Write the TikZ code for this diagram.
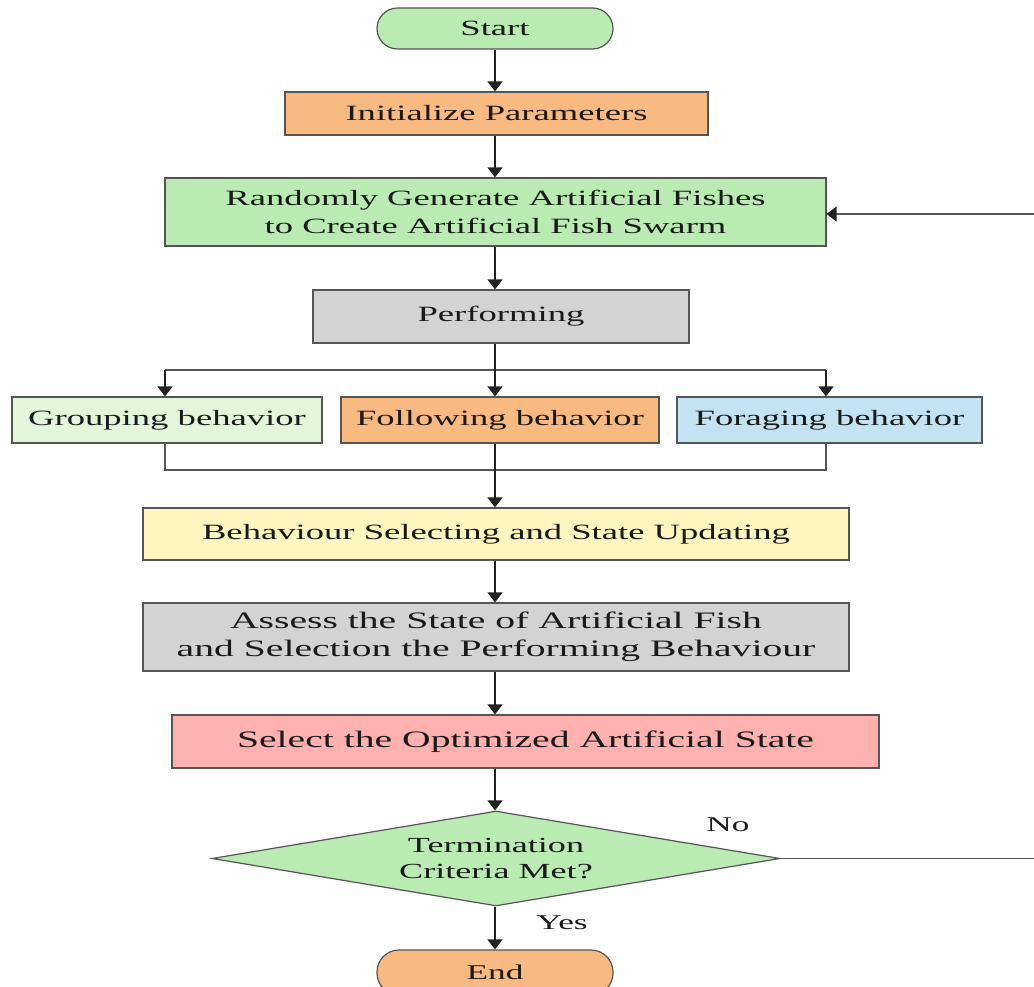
\documentclass[tikz,border=0pt]{standalone}
\usepackage{fontspec}
\setmainfont{Liberation Serif}
\newfontfamily\widefont[FakeStretch=1.68]{Liberation Serif}
\usetikzlibrary{shapes.geometric,arrows.meta,calc}
\definecolor{cgreen}{HTML}{B9EBB2}
\definecolor{corange}{HTML}{F9BA82}
\definecolor{cgray}{HTML}{D4D3D3}
\definecolor{clgreen}{HTML}{E3F6DC}
\definecolor{cblue}{HTML}{C3E3F3}
\definecolor{cyellow}{HTML}{FFF6BF}
\definecolor{cpink}{HTML}{FFB1AF}
\definecolor{cborder}{HTML}{555555}
\definecolor{carrow}{HTML}{222222}
\definecolor{cline}{HTML}{555555}
\definecolor{ctext}{HTML}{1A1A1A}
\begin{document}
\begin{tikzpicture}[x=1pt,y=-1pt,
  box/.style={draw=cborder, line width=1.2pt, inner sep=0pt, align=center, text=ctext,
    font=\widefont\fontsize{21.8}{28}\selectfont},
  bigbox/.style={box, font=\widefont\fontsize{23.6}{28}\selectfont},
  dia/.style={diamond, aspect=6, draw=cborder, line width=1.2pt, inner sep=0pt, align=center, text=ctext,
    font=\widefont\fontsize{21.5}{25.5}\selectfont},
  lab/.style={text=ctext, inner sep=0pt, font=\widefont\fontsize{21}{25}\selectfont},
  arr/.style={draw=carrow, line width=1.6pt, -{Triangle[width=15pt,length=10pt,color=carrow]}},
  ln/.style={draw=cline, line width=1.4pt}]
\useasboundingbox (0,0) rectangle (1034,987);
\coordinate (sp) at (495,0);
\node[box, fill=cgreen, rounded corners=20.5pt, minimum width=236, minimum height=41] (start) at (495,28.5) {Start};
\node[box, fill=corange, minimum width=423, minimum height=43] (init) at (496.5,113.5) {Initialize Parameters};
\node[box, fill=cgreen, minimum width=661, minimum height=68] (rand) at (495.5,212) {Randomly Generate Artificial Fishes\\to Create Artificial Fish Swarm};
\node[box, fill=cgray, minimum width=376, minimum height=53] (perf) at (501,316.5) {Performing};
\node[box, fill=clgreen, minimum width=310, minimum height=46] (group) at (167,420) {Grouping behavior};
\node[box, fill=corange, minimum width=318, minimum height=46] (follow) at (500,420) {Following behavior};
\node[box, fill=cblue, minimum width=305, minimum height=46] (forage) at (829.5,420) {Foraging behavior};
\node[box, fill=cyellow, minimum width=706, minimum height=52] (behav) at (496,534) {Behaviour Selecting and State Updating};
\node[bigbox, fill=cgray, minimum width=706, minimum height=68] (assess) at (496,637) {Assess the State of Artificial Fish\\and Selection the Performing Behaviour};
\node[bigbox, fill=cpink, minimum width=707, minimum height=53] (select) at (525.5,741.5) {Select the Optimized Artificial State};
\node[dia, fill=cgreen, minimum width=568, minimum height=95] (term) at (496,858.5) {Termination\\Criteria Met?};
\node[box, fill=corange, rounded corners=22pt, minimum width=236, minimum height=45, font=\widefont\fontsize{21}{25}\selectfont] (end) at (495,972.5) {End};
\node[lab] (no) at (728,825) {No};
\node[lab] (yes) at (562,923) {Yes};
\coordinate (bl) at (165,370);
\coordinate (br) at (826,370);
\coordinate (ml) at (165,470);
\coordinate (mr) at (826,470);
\coordinate (fbin) at (1034,214);
\coordinate (noend) at (1034,858.5);
\draw[arr] (start.south -| sp) -- (init.north -| sp);
\draw[arr] (init.south -| sp) -- (rand.north -| sp);
\draw[arr] (rand.south -| sp) -- (perf.north -| sp);
\draw[ln] (bl) -- (br);
\draw[arr] (perf.south -| sp) -- (follow.north -| sp);
\draw[arr] (bl) -- (group.north -| bl);
\draw[arr] (br) -- (forage.north -| br);
\draw[ln] (group.south -| ml) -- (ml) -- (mr) -- (forage.south -| mr);
\draw[arr] (follow.south -| sp) -- (behav.north -| sp);
\draw[arr] (behav.south -| sp) -- (assess.north -| sp);
\draw[arr] (assess.south -| sp) -- (select.north -| sp);
\draw[arr] (select.south -| sp) -- (term.north -| sp);
\draw[arr] (term.south -| sp) -- (end.north -| sp);
\draw[ln] (term.east) -- (noend);
\draw[arr, draw=cline, line width=1.4pt] (fbin) -- (rand.east |- fbin);
\end{tikzpicture}
\end{document}
